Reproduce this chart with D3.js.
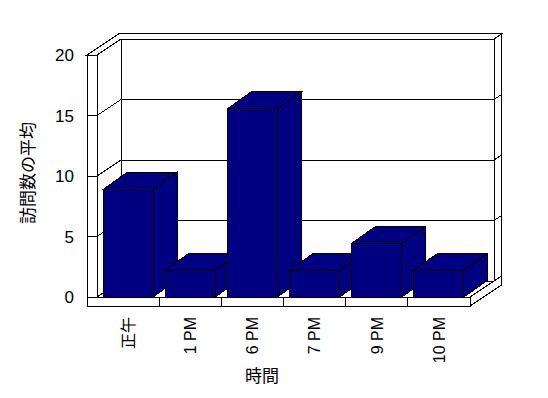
<!DOCTYPE html>
<html>
<head>
<meta charset="utf-8">
<script src="https://cdn.jsdelivr.net/npm/d3@7"></script>
<style>
  body { margin: 0; background: #fff; }
  text { font-family: "Liberation Sans", "Noto Sans CJK JP", sans-serif; fill: #000; }
</style>
</head>
<body>
<script>
// data
const categories = ["正午", "1 PM", "6 PM", "7 PM", "9 PM", "10 PM"];
const values = [8.89, 2.22, 15.56, 2.22, 4.44, 2.22];
const yTicks = [0, 5, 10, 15, 20];

// frame geometry
const X0 = 97, X1 = 470, Y0 = 297, Y1 = 55;
const DX = 24, DY = 16;      // depth of the plot box
const BDX = 24, BDY = 17;    // depth of the bars
const WL = 10, WF = 9, K = 1.33;

var svg = d3.select("body").append("svg")
    .attr("width", 548)
    .attr("height", 398)
    .style("shape-rendering", "crispEdges");

var x = d3.scaleBand().domain(categories).range([X0, X1])
    .paddingInner(0.196).paddingOuter(0.098);
var y = d3.scaleLinear().domain([0, 20]).range([Y0, Y1]);

function poly(pts, fill) {
  svg.append("polygon")
    .attr("points", pts.map(p => p.join(",")).join(" "))
    .attr("fill", fill)
    .attr("stroke", "#000")
    .attr("stroke-width", 1);
}
function line(x1, y1, x2, y2) {
  svg.append("line")
    .attr("x1", x1).attr("y1", y1).attr("x2", x2).attr("y2", y2)
    .attr("stroke", "#000").attr("stroke-width", 1);
}

// walls
poly([[X0 + DX, Y1 - DY], [X1 + DX, Y1 - DY], [X1 + DX, Y0 - DY], [X0 + DX, Y0 - DY]], "#fff");
poly([[X0, Y1], [X0 + DX, Y1 - DY], [X0 + DX, Y0 - DY], [X0, Y0]], "#fff");
poly([[X0, Y0], [X1, Y0], [X1 + DX, Y0 - DY], [X0 + DX, Y0 - DY]], "#fff");
poly([[X0 - WL, Y1], [X0 - WL + DX * K, Y1 - DY * K], [X1 + DX * K, Y1 - DY * K],
      [X1 + DX, Y1 - DY], [X0 + DX, Y1 - DY], [X0, Y1]], "#fff");
poly([[X1 + DX, Y1 - DY], [X1 + DX * K, Y1 - DY * K], [X1 + DX * K, Y0 + WF - DY * K],
      [X1, Y0 + WF], [X1, Y0], [X1 + DX, Y0 - DY]], "#fff");
poly([[X0 - WL, Y1], [X0, Y1], [X0, Y0], [X0 - WL, Y0]], "#fff");
poly([[X0 - WL, Y0], [X1, Y0], [X1, Y0 + WF], [X0 - WL, Y0 + WF]], "#fff");

// grid lines
yTicks.forEach(function(t) {
  var yy = y(t);
  line(X0 + DX, yy - DY, X1 + DX, yy - DY);
  line(X0, yy, X0 + DX, yy - DY);
  line(X1 + DX, yy - DY, X1 + DX * K, yy - DY * K);
  line(X0 - WL, yy, X0, yy);
});

// floor dividers
categories.slice(1).forEach(function(c) {
  var bx = x(c) - x.step() * x.paddingInner() / 2;
  line(bx, Y0, bx, Y0 + WF);
});

// bars
var bw = x.bandwidth();
categories.forEach(function(c, i) {
  var bx = x(c), yv = y(values[i]);
  poly([[bx, yv], [bx + BDX, yv - BDY], [bx + bw + BDX, yv - BDY], [bx + bw, yv]], "#000080");
  poly([[bx + bw, yv], [bx + bw + BDX, yv - BDY], [bx + bw + BDX, Y0 - BDY], [bx + bw, Y0]], "#000080");
  poly([[bx, yv], [bx + bw, yv], [bx + bw, Y0], [bx, Y0]], "#000080");
});

// y tick labels
svg.selectAll(".ylab").data(yTicks).enter().append("text")
    .attr("x", 74)
    .attr("y", d => y(d))
    .attr("dy", "0.36em")
    .attr("text-anchor", "end")
    .style("font-size", "17px")
    .text(d => d);

// x tick labels
svg.selectAll(".xlab").data(categories).enter().append("text")
    .attr("transform", d => "translate(" + (x(d) + bw / 2) + ",317) rotate(-90)")
    .attr("dy", "0.36em")
    .attr("text-anchor", "end")
    .style("font-size", "16px")
    .text(d => d);

// axis titles
svg.append("text")
    .attr("transform", "translate(28,173) rotate(-90)")
    .attr("dy", "0.36em")
    .attr("text-anchor", "middle")
    .style("font-size", "17px")
    .text("訪問数の平均");

svg.append("text")
    .attr("x", 262)
    .attr("y", 376)
    .attr("dy", "0.36em")
    .attr("text-anchor", "middle")
    .style("font-size", "17px")
    .text("時間");
</script>
</body>
</html>
